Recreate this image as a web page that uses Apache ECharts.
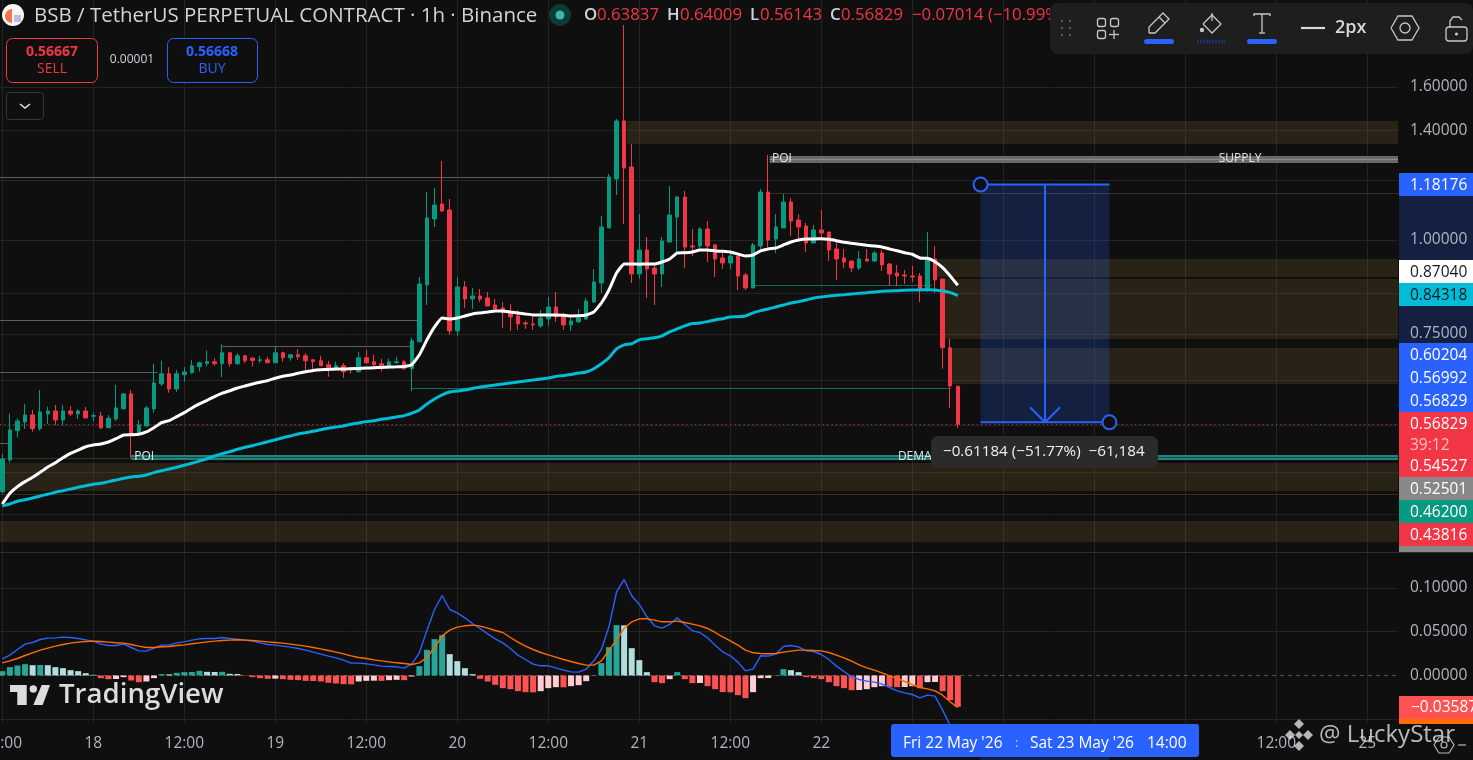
<!DOCTYPE html>
<html><head><meta charset="utf-8">
<style>html,body{margin:0;padding:0;background:#0f0f0f;overflow:hidden}#c{width:1473px;height:760px}</style>
<script src="https://cdn.jsdelivr.net/npm/echarts@6/dist/echarts.min.js"></script>
</head><body><div id="c"></div>
<script>
// --- data (hours counted from 18 May 00:00; first bar is 17 May 12:00) ---
const firstHour=-12;
const opens=[.4620,.5092,.5571,.5722,.5847,.5606,.5865,.5919,.5757,.5919,.5865,.5919,.5823,.5829,.5623,.5775,.5956,.6237,.5515,.5653,.5956,.6430,.6635,.6332,.6614,.6655,.6778,.6848,.6883,.6841,.7075,.6841,.7010,.6960,.6911,.6925,.6862,.7075,.6968,.7032,.7010,.6925,.6904,.6820,.6737,.6799,.6758,.6675,.6968,.6883,.6841,.6778,.6862,.6883,.6737,.7317,.8711,1.0665,1.1169,1.0964,.7567,.8658,.8345,.8422,.8371,.8193,.8118,.8019,.7922,.7754,.7730,.7683,.7849,.8143,.7922,.7707,.7778,.7849,.8269,.8765,1.0375,1.2060,1.4406,1.2510,.9010,.9698,.9177,.9010,.9939,1.0731,1.1409,.9818,.9818,1.0343,.9848,.9463,.9319,.9521,.8982,.8631,.9818,1.1586,1.0031,1.0375,1.1236,1.0633,1.0439,.9908,1.0311,1.0248,.9728,.9463,.9376,.9177,.9434,.9376,.9609,.9290,.9037,.8982,.8955,.8955,.8578,.9434,.8873,.7184,.63837];
const closes=[.5108,.5583,.5740,.5847,.5606,.5901,.5919,.5757,.5919,.5865,.5919,.5793,.5835,.5623,.5788,.5974,.6237,.5515,.5670,.5974,.6450,.6635,.6332,.6635,.6670,.6799,.6862,.6883,.6841,.7075,.6841,.7010,.6904,.6911,.6925,.6862,.7075,.6968,.7032,.6989,.6904,.6890,.6799,.6737,.6799,.6675,.6730,.6968,.6862,.6820,.6778,.6883,.6883,.6737,.7340,.8738,1.0698,1.1134,1.0930,.7567,.8658,.8345,.8422,.8345,.8168,.8093,.7995,.7897,.7730,.7730,.7707,.7873,.8143,.7897,.7707,.7802,.7873,.8294,.8791,1.0407,1.2132,1.4406,1.2470,.9010,.9698,.9149,.9010,.9969,1.0797,1.1409,.9788,.9788,1.0343,.9818,.9434,.9319,.9521,.8955,.8631,.9848,1.1586,1.0000,1.0407,1.1236,1.0600,1.0407,.9908,1.0311,1.0217,.9698,.9434,.9347,.9177,.9434,.9376,.9609,.9262,.9010,.8955,.8955,.8927,.8578,.9434,.8845,.7184,.6391,.56829];
const lows=[.4598,.5050,.5453,.5600,.5554,.5571,.5688,.5670,.5658,.5829,.5775,.5793,.5734,.5600,.5623,.5740,.5956,.5128,.5515,.5641,.5888,.6391,.6259,.6279,.6476,.6635,.6675,.6785,.6799,.6560,.6778,.6820,.6855,.6785,.6855,.6855,.6855,.6883,.6904,.6925,.6681,.6730,.6799,.6574,.6702,.6554,.6635,.6660,.6841,.6799,.6675,.6723,.6848,.6716,.6293,.7317,.8193,1.0407,1.0897,.7475,.7452,.8118,.8093,.8269,.8168,.8068,.7637,.7567,.7590,.7613,.7590,.7637,.7683,.7778,.7590,.7567,.7754,.7825,.8243,.8500,1.0375,1.1481,1.0503,.8765,.8873,.8371,.8193,.8658,.9939,.9639,.9177,.9521,.9700,.9347,.8927,.9149,.9149,.8578,.8578,.8631,.9698,.9788,.9609,1.0375,1.0124,.9969,.9639,.9908,1.0031,.9376,.8845,.9177,.9065,.9121,.9347,.9347,.9093,.8684,.8684,.8738,.8791,.8269,.8526,.8500,.6737,.5974,.56143];
const highs=[.5187,.5877,.5788,.6048,.5937,.6312,.5998,.6030,.6030,.6011,.5950,.5992,.5888,.5901,.5847,.6410,.6250,.6312,.5757,.6011,.6841,.6904,.6770,.6716,.6770,.6925,.6883,.7125,.6960,.7265,.7097,.7068,.7032,.6982,.7010,.6989,.7213,.7104,.7032,.7155,.7068,.6946,.7010,.6904,.6883,.6855,.6770,.7097,.7140,.7032,.6946,.6946,.6982,.6925,.7407,.8927,1.1586,1.1729,1.2742,1.1340,.8927,.8818,.8631,.8605,.8526,.8345,.8269,.8218,.8068,.7802,.7946,.8068,.8396,.8526,.7995,.7922,.8093,.8371,.9149,1.0764,1.2245,1.4494,1.9340,1.3422,1.0830,1.0092,.9319,1.0092,1.1800,1.1445,1.1623,1.0343,1.0400,1.0600,.9878,.9609,.9609,.9551,.9037,.9908,1.1695,1.2980,1.0830,1.1515,1.1375,1.0830,1.0535,1.0471,1.0964,1.0248,1.0000,.9728,.9376,.9669,.9728,.9669,.9698,.9319,.9262,.9121,.9233,.9037,1.0248,.9818,.8873,.7384,.64009];
const whiteLine=[.4448,.4598,.4693,.4765,.4829,.4904,.4984,.5049,.5128,.5198,.5250,.5304,.5332,.5348,.5381,.5436,.5498,.5503,.5510,.5549,.5623,.5710,.5745,.5817,.5888,.5974,.6048,.6116,.6185,.6250,.6298,.6351,.6391,.6430,.6464,.6495,.6544,.6585,.6610,.6645,.6675,.6702,.6716,.6723,.6730,.6730,.6737,.6744,.6751,.6758,.6765,.6772,.6778,.6785,.6820,.7032,.7362,.7660,.7873,.7849,.7873,.7922,.7970,.7995,.8019,.8044,.8044,.8019,.7995,.7970,.7946,.7946,.7946,.7946,.7938,.7922,.7925,.7946,.8019,.8243,.8578,.9037,.9290,.9290,.9285,.9290,.9290,.9347,.9434,.9609,.9614,.9639,.9698,.9698,.9669,.9660,.9639,.9580,.9521,.9551,.9669,.9728,.9758,.9848,.9939,1.0000,1.0031,1.0031,1.0040,1.0021,.9979,.9930,.9899,.9869,.9839,.9818,.9788,.9728,.9677,.9618,.9571,.9463,.9454,.9356,.9186,.8955,.87040];
const tealLine=[.4424,.4449,.4486,.4508,.4532,.4560,.4584,.4612,.4634,.4658,.4683,.4706,.4727,.4741,.4765,.4789,.4814,.4834,.4844,.4864,.4898,.4927,.4954,.4980,.5011,.5041,.5076,.5112,.5155,.5192,.5224,.5262,.5295,.5321,.5354,.5386,.5419,.5453,.5482,.5515,.5538,.5560,.5588,.5612,.5634,.5652,.5682,.5705,.5728,.5745,.5770,.5788,.5811,.5835,.5877,.5937,.6048,.6141,.6217,.6274,.6293,.6312,.6342,.6371,.6391,.6411,.6430,.6450,.6470,.6490,.6509,.6529,.6549,.6579,.6599,.6620,.6650,.6670,.6737,.6841,.6968,.7162,.7250,.7273,.7362,.7384,.7407,.7452,.7544,.7613,.7683,.7738,.7754,.7785,.7825,.7856,.7897,.7905,.7922,.7995,.8051,.8093,.8143,.8193,.8243,.8277,.8319,.8371,.8396,.8422,.8440,.8456,.8474,.8492,.8508,.8526,.8544,.8552,.8560,.8570,.8578,.8580,.8586,.8578,.8552,.8508,.84318];
const macdLine=[.01905,.02324,.02972,.03581,.03772,.04115,.04267,.04305,.04382,.04343,.04229,.04077,.03924,.03581,.03429,.03429,.03581,.03200,.02819,.02781,.03124,.03467,.03467,.03734,.03848,.04039,.04191,.04229,.04229,.04343,.04229,.04153,.04039,.03924,.03734,.03543,.03467,.03353,.03239,.03086,.02896,.02667,.02438,.02210,.02019,.01753,.01410,.01410,.01334,.01219,.01067,.01029,.00991,.00838,.01295,.02591,.05182,.07544,.09144,.07544,.07163,.06591,.05944,.05372,.04763,.04191,.03734,.03086,.02324,.01829,.01295,.01105,.01105,.00876,.00610,.00419,.00381,.00724,.01676,.02972,.05563,.09563,.10973,.09106,.08115,.06706,.05677,.05410,.05829,.06591,.05829,.05105,.04915,.04305,.03467,.02705,.02248,.01524,.00533,.00724,.02248,.02210,.02438,.03315,.03429,.03277,.02819,.02743,.02400,.01829,.01067,.00457,-.00152,-.00457,-.00648,-.00762,-.00991,-.01372,-.01753,-.01981,-.02172,-.02553,-.02248,-.02362,-.03962,-.05715,-.07582];
const signalLine=[.01448,.01676,.01943,.02286,.02591,.02896,.03124,.03353,.03543,.03696,.03810,.03886,.03924,.03886,.03810,.03734,.03696,.03543,.03353,.03200,.03200,.03277,.03315,.03429,.03505,.03620,.03734,.03848,.03924,.04001,.04039,.04077,.04039,.04001,.03924,.03848,.03772,.03696,.03581,.03467,.03353,.03200,.03048,.02858,.02667,.02477,.02248,.02057,.01943,.01791,.01676,.01562,.01448,.01372,.01257,.01448,.02057,.03200,.04534,.05182,.05525,.05677,.05753,.05639,.05410,.05144,.04915,.04343,.03810,.03353,.02972,.02629,.02362,.02096,.01829,.01600,.01372,.01181,.01181,.01676,.02896,.04039,.05372,.06134,.06477,.06477,.06325,.06134,.06134,.06210,.06058,.05867,.05677,.05372,.04915,.04420,.03962,.03467,.02896,.02591,.02515,.02477,.02515,.02667,.02781,.02896,.02896,.02858,.02819,.02629,.02324,.02019,.01638,.01219,.00876,.00610,.00305,-.00038,-.00343,-.00686,-.01029,-.01372,-.01524,-.01753,-.02248,-.03010,-.03658];
const macdHist=[.00495,.00953,.01143,.01295,.01181,.01200,.01181,.00953,.00838,.00610,.00495,.00267,.00076,-.00305,-.00419,-.00400,-.00191,-.00572,-.00762,-.00686,-.00305,.00152,.00133,.00305,.00381,.00400,.00533,.00419,.00400,.00419,.00191,.00171,-.00038,-.00191,-.00305,-.00381,-.00362,-.00419,-.00495,-.00533,-.00610,-.00629,-.00686,-.00838,-.00914,-.00991,-.01010,-.00686,-.00610,-.00591,-.00610,-.00533,-.00495,-.00533,-.00114,.01067,.02934,.04153,.04610,.02438,.01638,.00838,.00152,-.00381,-.00686,-.01067,-.01448,-.01562,-.01791,-.01905,-.01924,-.01791,-.01448,-.01334,-.01353,-.01219,-.01105,-.00648,.00038,.01410,.03239,.05753,.05734,.03124,.01753,.00381,-.00762,-.00876,-.00419,.00381,-.00419,-.00876,-.00857,-.01219,-.01562,-.01905,-.01924,-.02248,-.02591,-.01905,-.00305,-.00286,.00038,.00724,.00610,.00381,-.00191,-.00305,-.00419,-.00762,-.01219,-.01448,-.01676,-.01657,-.01562,-.01334,-.01219,-.01295,-.01334,-.01314,-.01219,-.01448,-.00762,-.00743,-.01791,-.02819,-.03587];
const timeTicks=[-12,0,12,24,36,48,60,72,84,96,108,120,132,144,156,168];
const timeLabels=['12:00','18','12:00','19','12:00','20','12:00','21','12:00','22','12:00','23','12:00','24','12:00','25'];
const priceTickLabels=[1.6,1.4,1.0,0.75];
const priceGrid=[1.6,1.4,1.2,1.0,0.85,0.75,0.65,0.567,0.49,0.431];
const macdTickLabels=[0,0.05,0.1];
const macdGrid=[-0.05,0.05,0.1];
const lastPrice=0.56829;
const boxStart=117,boxEnd=134,boxTop=1.18176,boxBottom=0.56992;
const axisBandTop=1.18176,axisBandBottom=0.56829;
// zones: start hour, end hour, upper price, lower price
const xMin=-12.304,xMax=172.05;
const zoneStart=[70.4,111,112.3,113.2,xMin,xMin];
const zoneEnd=[xMax,xMax,xMax,xMax,xMax,xMax];
const zoneTop=[1.4406,.9434,.8866,.7184,.5049,.4222];
const zoneBottom=[1.3428,.8927,.7384,.6430,.4634,.3965];
const oliveStart=[89.2,xMin,xMin],oliveEnd=[xMax,xMax,5.1],olivePrice=[1.155,.4582,.5118];
const greyStart=[xMin,xMin,xMin,17,xMin],greyEnd=[67.6,42.7,8.5,41.8,-11.2],greyPrice=[1.2132,.7834,.6665,.7218,.5362];
const tealStart=[42,87],tealEnd=[113,110.6],tealPrice=[.6347,.8703];
const poiStart=5,poiPrice=.5144,supplyStart=89.2,supplyPrice=1.2833;
const noteText=['POI','POI','SUPPLY','DEMAND'],noteHour=[5.4,89.5,148.4,106.1],notePrice=[.5144,1.2833,1.2833,.5144];
const rightPills=[['1.18176',173,23,'#2962ff','#fff'],['0.87040',260,23,'#fff','#131722'],['0.84318',283,23,'#00bcd4','#131722'],['0.60204',343,23,'#2962ff','#fff'],['0.56992',366,23,'#2962ff','#fff'],['0.56829',389,23,'#2962ff','#fff'],['0.56829',412,23,'#f23645','#fff'],['39:12',435,20,'#f23645','#ffc0c5'],['0.54527',455,22,'#f23645','#fff'],['0.52501',477,23,'#888888','#fff'],['0.46200',500,23,'#089981','#fff'],['0.43816',523,23,'#f23645','#fff']];
// --- end data ---

const FONT='"Open Sans","Noto Sans",sans-serif';
const hours=opens.map((_,i)=>firstHour+i);
const candleData=hours.map((h,i)=>[h,opens[i],closes[i],lows[i],highs[i]]);
const histData=macdHist.map((v,i)=>{const p=i?macdHist[i-1]:0;
  const c=v>=0?(v>=p?'#26a69a':'#b2dfdb'):(v<p?'#ff5252':'#ffcdd2');
  return {value:[hours[i],v],itemStyle:{color:c}};});
const pair=a=>a.map((v,i)=>[hours[i],v]);

function rectsSeries(name,st,en,top,bot,color,z){
  return {type:'custom',name,z,silent:true,clip:true,xAxisIndex:0,yAxisIndex:0,
    data:st.map((s,i)=>[s,en[i],top[i],bot[i]]),encode:{x:[0,1],y:[2,3]},
    renderItem:(p,api)=>{const a=api.coord([api.value(0),api.value(2)]),b=api.coord([api.value(1),api.value(3)]);
      return {type:'rect',shape:{x:a[0],y:Math.round(a[1]),width:b[0]-a[0],height:Math.round(b[1])-Math.round(a[1])},style:{fill:color}};}};
}
function levelsSeries(name,st,en,pr,stroke,w,z,dash){
  return {type:'custom',name,z,silent:true,clip:true,xAxisIndex:0,yAxisIndex:0,
    data:st.map((s,i)=>[s,en[i],pr[i]]),encode:{x:[0,1],y:2},
    renderItem:(p,api)=>{const a=api.coord([api.value(0),api.value(2)]),b=api.coord([api.value(1),api.value(2)]);
      const y=Math.round(a[1])+(w%2?0.5:0);
      return {type:'line',shape:{x1:a[0],y1:y,x2:b[0],y2:y},style:{stroke,lineWidth:w,lineDash:dash||null}};}};
}
const zoneColor='rgba(195,155,75,0.15)';
const series=[
  rectsSeries('zones',zoneStart,zoneEnd,zoneTop,zoneBottom,zoneColor,1),
  levelsSeries('olive',oliveStart,oliveEnd,olivePrice,'#3a3220',1,1),
  levelsSeries('grey',greyStart,greyEnd,greyPrice,'#5e5e5e',1,1),
  levelsSeries('teal',tealStart,tealEnd,tealPrice,'#0c6a62',1,1),
  levelsSeries('poiBand',[poiStart],[xMax],[poiPrice],'#26807b',5,1),
  levelsSeries('poiCore',[poiStart],[xMax],[poiPrice],'#0f4f4b',1,1),
  levelsSeries('supplyBand',[supplyStart],[xMax],[supplyPrice],'#6a6a6a',7,1),
  levelsSeries('supplyCore',[supplyStart],[xMax],[supplyPrice],'#8c8c8c',1,1),
  levelsSeries('last',[xMin],[xMax],[lastPrice],'#c93a47',1,1,[1,3.4]),
  {type:'custom',name:'notes',z:2,silent:true,xAxisIndex:0,yAxisIndex:0,
   data:noteText.map((t,i)=>[noteHour[i],notePrice[i],t]),encode:{x:0,y:1},
   renderItem:(p,api)=>{const a=api.coord([api.value(0),api.value(1)]);
     return {type:'text',x:a[0],y:a[1],style:{text:noteText[p.dataIndex],fill:'#e6e6e6',font:'500 12px '+FONT,textAlign:'left',textVerticalAlign:'middle'}};}},
  {type:'candlestick',name:'BSB',xAxisIndex:0,yAxisIndex:0,z:3,barWidth:4,silent:true,clip:true,
   data:candleData,encode:{x:0,y:[1,2,3,4]},
   itemStyle:{color:'#089981',color0:'#f23645',borderColor:'#089981',borderColor0:'#f23645',borderWidth:1}},
  {type:'line',name:'White',xAxisIndex:0,yAxisIndex:0,z:4,data:pair(whiteLine),showSymbol:false,silent:true,smooth:0.12,lineStyle:{color:'#ffffff',width:3}},
  {type:'line',name:'Teal',xAxisIndex:0,yAxisIndex:0,z:4,data:pair(tealLine),showSymbol:false,silent:true,smooth:0.3,lineStyle:{color:'#00bcd4',width:3}},
  {type:'custom',name:'box',z:5,silent:true,xAxisIndex:0,yAxisIndex:0,
   data:[[boxStart,boxEnd,boxTop,boxBottom]],encode:{x:[0,1],y:[2,3]},
   renderItem:(p,api)=>{
     const a=api.coord([api.value(0),api.value(2)]),b=api.coord([api.value(1),api.value(3)]);
     const mx=(a[0]+b[0])/2,blue='#2962ff',ay=a[1]-1,by=b[1]-1;
     const ln=(x1,y1,x2,y2)=>({type:'line',shape:{x1,y1,x2,y2},style:{stroke:blue,lineWidth:2}});
     const circ=(x,y)=>({type:'circle',shape:{cx:x,cy:y,r:7},style:{stroke:blue,lineWidth:2,fill:'#0f0f0f'}});
     return {type:'group',children:[
       {type:'rect',shape:{x:a[0],y:ay,width:b[0]-a[0],height:by-ay},style:{fill:'rgba(41,98,255,0.2)'}},
       ln(a[0],ay,b[0],ay),ln(a[0],by,b[0],by),ln(mx,ay,mx,by),
       ln(mx-15,by-15,mx,by),ln(mx+15,by-15,mx,by),
       circ(a[0],ay),circ(b[0],by)]};}},
  {type:'custom',name:'axisBand',z:-1,silent:true,clip:false,xAxisIndex:0,yAxisIndex:0,
   data:[[xMax,axisBandTop,axisBandBottom]],encode:{x:0,y:[1,2]},
   renderItem:(p,api)=>{const a=api.coord([xMax,api.value(1)]),b=api.coord([xMax,api.value(2)]);
     return {type:'rect',shape:{x:a[0]+1,y:a[1],width:75,height:b[1]-a[1]},style:{fill:'#132042'}};}},
  {type:'bar',name:'Histogram',xAxisIndex:1,yAxisIndex:1,z:2,barWidth:6,silent:true,data:histData},
  {type:'line',name:'MACD',xAxisIndex:1,yAxisIndex:1,z:3,data:pair(macdLine),showSymbol:false,silent:true,lineStyle:{color:'#2962ff',width:1.4}},
  {type:'line',name:'Signal',xAxisIndex:1,yAxisIndex:1,z:3,data:pair(signalLine),showSymbol:false,silent:true,lineStyle:{color:'#ff6d00',width:1.4}},
  {type:'line',name:'Zero',xAxisIndex:1,yAxisIndex:1,z:1,data:[[xMin,0],[xMax,0]],showSymbol:false,silent:true,lineStyle:{color:'#555555',width:1,type:[4,4]}},
];

// --- page furniture ---
const g=[];const Z=50;
let zNow=Z;
const R=(x,y,w,h,fill,r,stroke,lw)=>g.push({type:'rect',z:++zNow,shape:{x,y,width:w,height:h,r:r||0},style:{fill:fill||'transparent',stroke:stroke||null,lineWidth:lw||1}});
const T=(x,y,text,fill,size,weight,align)=>g.push({type:'text',z:++zNow,x,y,style:{text,fill,font:(weight||'400')+' '+size+'px '+FONT,textAlign:align||'left',textVerticalAlign:'middle'}});
const L=(pts,stroke,lw)=>g.push({type:'polyline',z:++zNow,shape:{points:pts},style:{stroke,lineWidth:lw||1.5,fill:null}});
const C=(x,y,r,fill,stroke,lw)=>g.push({type:'circle',z:++zNow,shape:{cx:x,cy:y,r},style:{fill:fill||'transparent',stroke:stroke||null,lineWidth:lw||1.5}});
R(0,552,1473,1,'#2e2e2e');
// legend
C(13,15,11,'#f5f5f5');
g.push({type:'sector',z:++zNow,shape:{cx:12,cy:16,r:7,r0:0,startAngle:Math.PI*0.5,endAngle:Math.PI*1.5},style:{fill:'#f0764a'}});
R(14,15,7,7,'#b9bce6');
T(34,16,'BSB / TetherUS PERPETUAL CONTRACT · 1h · Binance','#d1d4dc',20.5);
C(560,15,11,'#0d3b36');C(560,15,4.5,'#3ab7a5');
T(584,15,'O','#d1d4dc',16.8,'600');T(597,15,'0.63837','#f23645',16.8);
T(667,15,'H','#d1d4dc',16.8,'600');T(680,15,'0.64009','#f23645',16.8);
T(750,15,'L','#d1d4dc',16.8,'600');T(760,15,'0.56143','#f23645',16.8);
T(830,15,'C','#d1d4dc',16.8,'600');T(841,15,'0.56829','#f23645',16.8);
T(912,15,'−0.07014 (−10.99%)','#f23645',16.8);
// sell / buy
R(6.5,38.5,91,44,'#0f0f0f',6,'#f23645',1);R(167.5,38.5,90,44,'#0f0f0f',6,'#2962ff',1);
T(52,52,'0.56667','#f23645',14,'700','center');T(52,69,'SELL','#f23645',14,'400','center');
T(212,52,'0.56668','#2962ff',14,'700','center');T(212,69,'BUY','#2962ff',14,'400','center');
T(132,60,'0.00001','#d1d4dc',12,'400','center');
R(6.5,92.5,37,27,'#0f0f0f',3,'#363636',1);L([[20,104],[25,108],[30,104]],'#e6e6e6',1.5);
// toolbar
R(1050,3,423,51,'#1e1e1e',8);
[[1062,21],[1070,21],[1062,28],[1070,28],[1062,35],[1070,35]].forEach(p=>C(p[0],p[1],1.2,'#5a5a5a'));
const ic='#c8c8c8';
R(1097.5,18.5,8,8,null,2,ic,1.3);R(1110.5,18.5,8,8,null,2,ic,1.3);R(1097.5,30.5,8,8,null,2,ic,1.3);
L([[1109,34.5],[1119,34.5]],ic,1.3);L([[1114,30],[1114,39]],ic,1.3);
L([[1149,33],[1149,27],[1163,13],[1169,19],[1155,33],[1149,33]],ic,1.3);L([[1159,17],[1165,23]],ic,1.3);
L([[1203,24],[1212,15],[1221,24],[1212,33],[1203,24]],ic,1.3);C(1202,30,2.2,ic);L([[1212,13],[1212,21]],ic,1.3);
L([[1254,16],[1254,14],[1270,14],[1270,16]],ic,1.3);L([[1262,14],[1262,33]],ic,1.3);L([[1259,33],[1265,33]],ic,1.3);
R(1144,39,30,5,'#2962ff',2.5);R(1247,39,30,5,'#2962ff',2.5);
g.push({type:'line',z:++zNow,shape:{x1:1197,y1:41.5,x2:1225,y2:41.5},style:{stroke:'#1a2f6b',lineWidth:4,lineDash:[2,1]}});
L([[1301,28],[1325,28]],'#d8d8d8',2.2);T(1335,28,'2px','#d8d8d8',18,'600');
L([[1391,28],[1398,16],[1412,16],[1419,28],[1412,40],[1398,40],[1391,28]],ic,1.3);C(1405,28,5,null,ic,1.3);
R(1446,27,21,14,null,3,ic,1.3);L([[1450,27],[1450,21],[1453,17],[1459,17],[1462,20]],ic,1.3);C(1456.5,34,1.6,ic);
// right pills
rightPills.forEach(p=>{R(1399,p[1],74,p[2],p[3]);T(1410,p[1]+p[2]/2+1,p[0],p[4],15.5);});
R(1399,546,74,6,'#888888');
R(1399,696,74,23,'#ff5252');T(1411,708,'−0.03587','#fff',15.5);
R(1399,719,74,5,'#ff6d00');
// measure tooltip
R(931,436,227,32,'#2b2b2b',7);
T(943,452,'−0.61184 (−51.77%)  −61,184','#f0f0f0',15.2);
// time pill
R(980,757,129,3,'#132042');
R(891,724,308,33,'#2962ff',3);
T(903,744,"Fri 22 May '26",'#fff',15.5);T(1015,743,':','#cfd8ff',13);T(1030,744,"Sat 23 May '26",'#fff',15.5);T(1147,744,'14:00','#fff',15.5);
// TradingView watermark
const wm='#dcdcdc';
g.push({type:'polygon',z:++zNow,shape:{points:[[10,685],[26.7,685],[26.7,705],[17.3,705],[17.3,692],[10,692]]},style:{fill:wm}});
C(33.3,689,3.7,wm);
g.push({type:'polygon',z:++zNow,shape:{points:[[41.7,685],[50,685],[42.7,705],[33.3,705]]},style:{fill:wm}});
T(59,695,'TradingView',wm,27.6,'600');
// LuckyStar watermark
const ws='rgba(225,225,225,0.8)';
[[1299,724],[1290,735],[1308,735],[1299,746]].forEach(p=>g.push({type:'polygon',z:++zNow,shape:{points:[[p[0],p[1]-5],[p[0]+5,p[1]],[p[0],p[1]+5],[p[0]-5,p[1]]]},style:{fill:ws}}));
g.push({type:'polygon',z:++zNow,shape:{points:[[1299,731],[1303,735],[1299,739],[1295,735]]},style:{fill:ws}});
T(1319,735,'@ LuckyStar',ws,24);
L([[1434,745],[1439,737],[1449,737],[1454,745],[1449,753],[1439,753],[1434,745]],ws,1.2);C(1444,745,3,null,ws,1.2);L([[1458,745],[1466,745]],ws,1.2);

const grids=[{left:0,top:0,width:1398,height:552,outerBoundsMode:'none'},{left:0,top:553,width:1398,height:170,outerBoundsMode:'none'}];
const axisCommon={type:'value',min:xMin,max:xMax,axisLine:{show:false},
  axisTick:{show:false,customValues:timeTicks},
  splitLine:{show:true,lineStyle:{color:'#232323',width:1}}};
const priceLabel={show:true,margin:12,color:'#b2b5be',fontFamily:FONT,fontSize:15.5,padding:[4,0,0,0],formatter:v=>Number(v).toFixed(5)};
const option={
  animation:false,backgroundColor:'#0f0f0f',
  grid:grids,
  xAxis:[
    Object.assign({},axisCommon,{gridIndex:0,axisLabel:{show:false,customValues:timeTicks}}),
    Object.assign({},axisCommon,{gridIndex:1,axisLabel:{show:true,customValues:timeTicks,color:'#b2b5be',fontFamily:FONT,fontSize:15.5,margin:13,
      formatter:v=>timeLabels[timeTicks.indexOf(v)]||''}})
  ],
  yAxis:[
    {type:'log',gridIndex:0,position:'right',min:0.384,max:2.088,axisLine:{show:false},
     axisTick:{show:false,customValues:priceGrid},
     axisLabel:Object.assign({customValues:priceTickLabels},priceLabel),
     splitLine:{show:true,lineStyle:{color:'#232323',width:1}}},
    {type:'value',gridIndex:1,position:'right',min:-0.0543,max:0.14,axisLine:{show:false},
     axisTick:{show:false,customValues:macdGrid},
     axisLabel:Object.assign({customValues:macdTickLabels},priceLabel),
     splitLine:{show:true,lineStyle:{color:'#232323',width:1}}}
  ],
  series,
  graphic:{elements:g}
};
const chart=echarts.init(document.getElementById('c'),null,{renderer:'canvas'});
chart.setOption(option);
</script></body></html>
